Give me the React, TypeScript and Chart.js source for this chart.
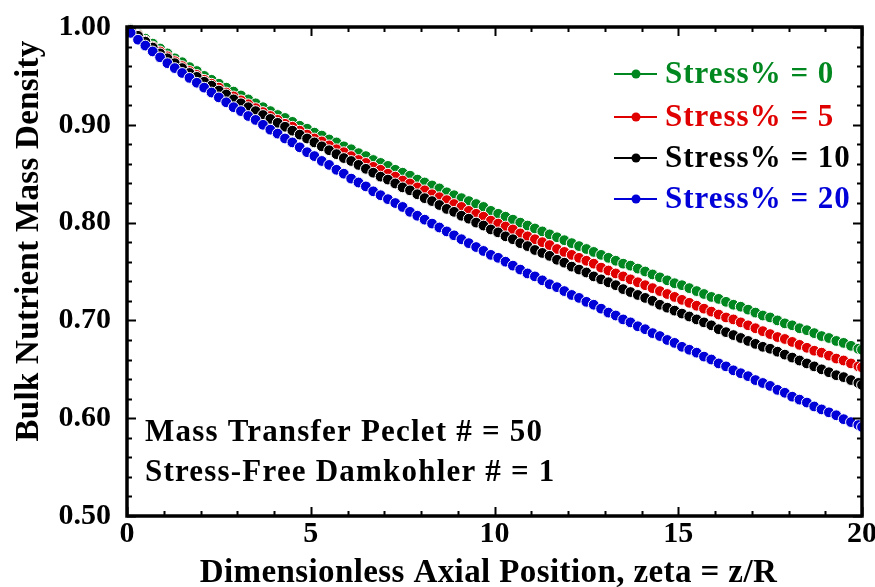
import React, { useEffect, useRef } from "react";
import { Chart, registerables } from "chart.js";

Chart.register(...registerables);

const zeta = [
  0.1, 0.3, 0.5, 0.7, 0.9, 1.1, 1.3, 1.5, 1.7, 1.9,
  2.1, 2.3, 2.5, 2.7, 2.9, 3.1, 3.3, 3.5, 3.7, 3.9,
  4.1, 4.3, 4.5, 4.7, 4.9, 5.1, 5.3, 5.5, 5.7, 5.9,
  6.1, 6.3, 6.5, 6.7, 6.9, 7.1, 7.3, 7.5, 7.7, 7.9,
  8.1, 8.3, 8.5, 8.7, 8.9, 9.1, 9.3, 9.5, 9.7, 9.9,
  10.1, 10.3, 10.5, 10.7, 10.9, 11.1, 11.3, 11.5, 11.7, 11.9,
  12.1, 12.3, 12.5, 12.7, 12.9, 13.1, 13.3, 13.5, 13.7, 13.9,
  14.1, 14.3, 14.5, 14.7, 14.9, 15.1, 15.3, 15.5, 15.7, 15.9,
  16.1, 16.3, 16.5, 16.7, 16.9, 17.1, 17.3, 17.5, 17.7, 17.9,
  18.1, 18.3, 18.5, 18.7, 18.9, 19.1, 19.3, 19.5, 19.7, 19.9,
  20,
];

const stress0 = [
  0.998, 0.993, 0.988, 0.983, 0.978, 0.973, 0.968, 0.964, 0.959, 0.955,
  0.950, 0.946, 0.942, 0.938, 0.934, 0.930, 0.926, 0.922, 0.918, 0.914,
  0.910, 0.907, 0.903, 0.899, 0.896, 0.892, 0.889, 0.885, 0.882, 0.878,
  0.875, 0.871, 0.868, 0.864, 0.861, 0.858, 0.854, 0.851, 0.848, 0.844,
  0.841, 0.838, 0.835, 0.831, 0.828, 0.825, 0.822, 0.819, 0.816, 0.812,
  0.809, 0.806, 0.803, 0.800, 0.797, 0.794, 0.791, 0.788, 0.785, 0.782,
  0.779, 0.776, 0.773, 0.770, 0.767, 0.764, 0.761, 0.758, 0.756, 0.753,
  0.750, 0.747, 0.744, 0.741, 0.738, 0.736, 0.733, 0.730, 0.727, 0.724,
  0.722, 0.719, 0.716, 0.714, 0.711, 0.708, 0.705, 0.703, 0.700, 0.697,
  0.695, 0.692, 0.690, 0.687, 0.684, 0.682, 0.679, 0.677, 0.674, 0.671,
  0.670,
];

const stress5 = [
  0.997, 0.992, 0.986, 0.980, 0.975, 0.970, 0.965, 0.960, 0.955, 0.951,
  0.946, 0.942, 0.938, 0.933, 0.929, 0.925, 0.921, 0.917, 0.913, 0.909,
  0.905, 0.901, 0.898, 0.894, 0.890, 0.886, 0.883, 0.879, 0.875, 0.872,
  0.868, 0.864, 0.861, 0.857, 0.854, 0.850, 0.847, 0.843, 0.840, 0.836,
  0.833, 0.829, 0.826, 0.823, 0.819, 0.816, 0.812, 0.809, 0.806, 0.802,
  0.799, 0.796, 0.793, 0.789, 0.786, 0.783, 0.780, 0.777, 0.773, 0.770,
  0.767, 0.764, 0.761, 0.758, 0.754, 0.751, 0.748, 0.745, 0.742, 0.739,
  0.736, 0.733, 0.730, 0.727, 0.724, 0.721, 0.718, 0.715, 0.712, 0.709,
  0.706, 0.703, 0.701, 0.698, 0.695, 0.692, 0.689, 0.686, 0.683, 0.681,
  0.678, 0.675, 0.672, 0.669, 0.667, 0.664, 0.661, 0.659, 0.656, 0.653,
  0.652,
];

const stress10 = [
  0.997, 0.991, 0.985, 0.979, 0.973, 0.968, 0.963, 0.958, 0.953, 0.949,
  0.944, 0.940, 0.935, 0.931, 0.926, 0.922, 0.918, 0.914, 0.910, 0.906,
  0.902, 0.898, 0.894, 0.890, 0.886, 0.882, 0.878, 0.874, 0.870, 0.866,
  0.863, 0.859, 0.855, 0.851, 0.847, 0.844, 0.840, 0.836, 0.833, 0.829,
  0.825, 0.822, 0.818, 0.814, 0.811, 0.807, 0.804, 0.800, 0.797, 0.793,
  0.790, 0.786, 0.783, 0.779, 0.776, 0.772, 0.769, 0.766, 0.762, 0.759,
  0.755, 0.752, 0.749, 0.745, 0.742, 0.739, 0.736, 0.732, 0.729, 0.726,
  0.723, 0.720, 0.716, 0.713, 0.710, 0.707, 0.704, 0.701, 0.698, 0.695,
  0.691, 0.688, 0.685, 0.682, 0.679, 0.676, 0.673, 0.671, 0.668, 0.665,
  0.662, 0.659, 0.656, 0.653, 0.650, 0.647, 0.644, 0.642, 0.639, 0.636,
  0.634,
];

const stress20 = [
  0.994, 0.987, 0.981, 0.975, 0.969, 0.963, 0.958, 0.953, 0.948, 0.943,
  0.938, 0.933, 0.928, 0.923, 0.918, 0.914, 0.909, 0.905, 0.900, 0.895,
  0.891, 0.886, 0.882, 0.877, 0.872, 0.868, 0.863, 0.859, 0.854, 0.850,
  0.845, 0.841, 0.837, 0.832, 0.828, 0.824, 0.820, 0.816, 0.811, 0.807,
  0.803, 0.799, 0.795, 0.791, 0.787, 0.783, 0.779, 0.775, 0.771, 0.767,
  0.764, 0.760, 0.756, 0.752, 0.748, 0.745, 0.741, 0.737, 0.734, 0.730,
  0.726, 0.723, 0.719, 0.716, 0.712, 0.708, 0.705, 0.701, 0.698, 0.694,
  0.691, 0.687, 0.684, 0.680, 0.677, 0.673, 0.670, 0.667, 0.663, 0.660,
  0.656, 0.653, 0.649, 0.646, 0.643, 0.639, 0.636, 0.633, 0.629, 0.626,
  0.622, 0.619, 0.616, 0.612, 0.609, 0.606, 0.603, 0.599, 0.596, 0.593,
  0.591,
];

const seriesLabels = ["Stress% = 0", "Stress% = 5", "Stress% = 10", "Stress% = 20"];
const seriesColors = ["#00871f", "#e00000", "#000000", "#0000d8"];
const xTickValues = [0, 5, 10, 15, 20];
const yTickValues = [0.5, 0.6, 0.7, 0.8, 0.9, 1.0];
const annotationLines = ["Mass Transfer Peclet # = 50", "Stress-Free Damkohler # = 1"];
const xTitle = "Dimensionless Axial Position, zeta = z/R";
const yTitle = "Bulk Nutrient Mass Density";

const FONT = "'Liberation Serif', 'Times New Roman', serif";

const framePlugin = {
  id: "frameTicks",
  afterDatasetsDraw(chart: any) {
    const { ctx, chartArea } = chart;
    const xs = chart.scales.x;
    const ys = chart.scales.y;
    const { left, right, top, bottom } = chartArea;
    ctx.save();
    ctx.strokeStyle = "#000";
    ctx.lineWidth = 2;
    for (let v = 0; v <= 20; v += 1) {
      const px = Math.round(xs.getPixelForValue(v)) + 0.5;
      const len = v % 5 === 0 ? 9 : 5;
      ctx.beginPath();
      ctx.moveTo(px, bottom);
      ctx.lineTo(px, bottom - len);
      ctx.moveTo(px, top);
      ctx.lineTo(px, top + len);
      ctx.stroke();
    }
    for (let i = 0; i <= 25; i++) {
      const v = 0.5 + i * 0.02;
      const py = Math.round(ys.getPixelForValue(v)) + 0.5;
      const len = i % 5 === 0 ? 9 : 5;
      ctx.beginPath();
      ctx.moveTo(left, py);
      ctx.lineTo(left + len, py);
      ctx.moveTo(right, py);
      ctx.lineTo(right - len, py);
      ctx.stroke();
    }
    ctx.lineWidth = 3.5;
    ctx.strokeRect(left, top, right - left, bottom - top);
    ctx.restore();
  },
  afterDraw(chart: any) {
    const { ctx, chartArea } = chart;
    ctx.save();
    const ly = [74, 117, 158, 199];
    seriesLabels.forEach((lab, i) => {
      const c = seriesColors[i];
      ctx.strokeStyle = c;
      ctx.lineWidth = 2;
      ctx.beginPath();
      ctx.moveTo(614, ly[i]);
      ctx.lineTo(657, ly[i]);
      ctx.stroke();
      ctx.fillStyle = c;
      ctx.beginPath();
      ctx.arc(636, ly[i], 4.5, 0, Math.PI * 2);
      ctx.fill();
      ctx.font = `bold 31px ${FONT}`;
      (ctx as any).letterSpacing = "1px";
      ctx.textBaseline = "middle";
      ctx.textAlign = "left";
      ctx.fillText(lab, 665, ly[i] + 1);
    });
    ctx.fillStyle = "#000";
    ctx.font = `bold 31px ${FONT}`;
    (ctx as any).letterSpacing = "1.2px";
    ctx.textBaseline = "middle";
    ctx.fillText(annotationLines[0], 145, 433);
    ctx.fillText(annotationLines[1], 145, 473);
    ctx.textAlign = "center";
    ctx.font = `bold 33px ${FONT}`;
    (ctx as any).letterSpacing = "0.4px";
    ctx.fillText(xTitle, (chartArea.left + chartArea.right) / 2 - 6, 573);
    (ctx as any).letterSpacing = "0.3px";
    ctx.translate(29, 241);
    ctx.rotate(-Math.PI / 2);
    ctx.fillText(yTitle, 0, 0);
    ctx.restore();
  },
};

export default function App() {
  const ref = useRef<HTMLCanvasElement | null>(null);
  useEffect(() => {
    if (!ref.current) return;
    document.body.style.margin = "0";
    const series = [stress0, stress5, stress10, stress20];
    const chart = new Chart(ref.current, {
      type: "scatter",
      data: {
        datasets: series.map((vals, i) => ({
          label: seriesLabels[i],
          data: zeta.map((x, j) => ({ x, y: vals[j] })),
          showLine: true,
          borderColor: seriesColors[i],
          borderWidth: 1,
          backgroundColor: seriesColors[i],
          pointBackgroundColor: seriesColors[i],
          pointBorderColor: "#ffffff",
          pointBorderWidth: 1,
          pointRadius: 5.4,
          order: 4 - i,
          clip: { left: false, top: false, right: 0, bottom: 0 } as any,
        })),
      },
      options: {
        responsive: false,
        animation: false,
        events: [],
        layout: { padding: { top: 27, right: 13, left: 0, bottom: 0 } },
        plugins: { legend: { display: false }, tooltip: { enabled: false } },
        scales: {
          x: {
            type: "linear",
            min: 0,
            max: 20,
            afterBuildTicks: (s: any) => {
              s.ticks = xTickValues.map((v) => ({ value: v }));
            },
            afterFit: (s: any) => {
              s.height = 71;
              s.paddingLeft = 0;
              s.paddingRight = 0;
            },
            grid: { display: false, drawTicks: false },
            border: { display: false },
            ticks: {
              color: "#000",
              padding: 0,
              maxRotation: 0,
              autoSkip: false,
              font: { family: FONT, size: 30, weight: "bold" },
              callback: (v: any) => String(v),
            },
          },
          y: {
            type: "linear",
            min: 0.5,
            max: 1.0,
            afterBuildTicks: (s: any) => {
              s.ticks = yTickValues.map((v) => ({ value: v }));
            },
            afterFit: (s: any) => {
              s.width = 127;
              s.paddingTop = 0;
              s.paddingBottom = 0;
            },
            grid: { display: false, drawTicks: false },
            border: { display: false },
            ticks: {
              color: "#000",
              padding: 16,
              autoSkip: false,
              font: { family: FONT, size: 30, weight: "bold" },
              callback: (v: any) => Number(v).toFixed(2),
            },
          },
        },
      },
      plugins: [framePlugin],
    });
    return () => chart.destroy();
  }, []);
  return (
    <div style={{ position: "fixed", left: 0, top: 0, width: 875, height: 587, background: "#fff" }}>
      <canvas ref={ref} width={875} height={587} />
    </div>
  );
}
